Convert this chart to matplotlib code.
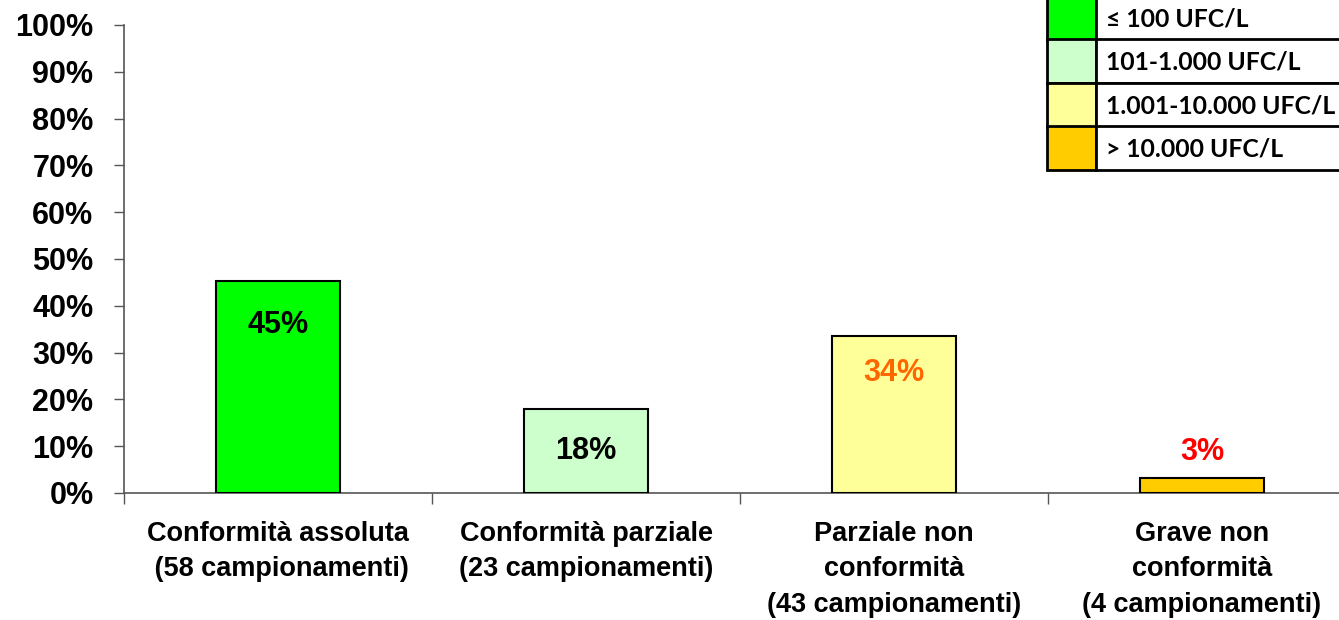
import matplotlib
matplotlib.use("Agg")
import matplotlib.pyplot as plt
from matplotlib.patches import Rectangle

# data
categories = ["Conformità assoluta\n (58 campionamenti)",
              "Conformità parziale\n(23 campionamenti)",
              "Parziale non\nconformità\n(43 campionamenti)",
              "Grave non\nconformità\n(4 campionamenti)"]
counts = [58, 23, 43, 4]
total = sum(counts)
values = [100.0 * c / total for c in counts]
bar_labels = ["45%", "18%", "34%", "3%"]
bar_colors = ["#00FF00", "#CCFFCC", "#FFFF99", "#FFCC00"]
label_colors = ["#000000", "#000000", "#FF6600", "#FF0000"]
label_offsets = [-44, -42, -37, 26]   # px from bar top
legend_labels = ["≤ 100 UFC/L", "101-1.000 UFC/L", "1.001-10.000 UFC/L", "> 10.000 UFC/L"]
yticks = list(range(0, 101, 10))

W, H = 1339, 620
fig = plt.figure(figsize=(W / 100, H / 100), dpi=100)
ax = fig.add_axes([124 / W, 1 - 493 / H, 1232 / W, 468 / H])

x = list(range(len(values)))
ax.bar(x, values, width=0.4, color=bar_colors, edgecolor="black", linewidth=1.5, zorder=3)

for xi, v, lab, col, off in zip(x, values, bar_labels, label_colors, label_offsets):
    ax.annotate(lab, (xi, v), xytext=(0, off * 0.72), textcoords="offset points",
                ha="center", va="center", fontsize=22, fontweight="bold",
                color=col, family="Liberation Sans")

ax.set_xlim(-0.5, 3.5)
ax.set_ylim(0, 100)
ax.set_yticks(yticks)
ax.set_yticklabels([f"{t}%" for t in yticks], fontsize=22, fontweight="bold",
                   family="Liberation Sans")
ax.set_xticks([-0.5, 0.5, 1.5, 2.5, 3.5])
ax.set_xticklabels([])
ax.set_xticks(x, minor=True)
ax.set_xticklabels(categories, minor=True, fontsize=19.5, fontweight="bold",
                   family="Liberation Sans", linespacing=1.48, va="top")
ax.tick_params(axis="x", which="minor", length=0, pad=20)
ax.tick_params(axis="x", which="major", length=8, width=1, color="#555555")
ax.tick_params(axis="y", length=7, width=1, color="#555555", pad=15)
for s in ["top", "right"]:
    ax.spines[s].set_visible(False)
for s in ["left", "bottom"]:
    ax.spines[s].set_color("#555555")
    ax.spines[s].set_linewidth(1.2)
ax.spines["bottom"].set_clip_on(False)

# legend table, top right
left, sw_right, row_h, top = 1047, 1096, 43.5, -4
for i, (lab, col) in enumerate(zip(legend_labels, bar_colors)):
    y0 = top + i * row_h
    fig.patches.append(Rectangle((left / W, 1 - (y0 + row_h) / H), (sw_right - left) / W, row_h / H,
                                 transform=fig.transFigure, facecolor=col,
                                 edgecolor="black", linewidth=2))
    fig.patches.append(Rectangle((sw_right / W, 1 - (y0 + row_h) / H), (W + 20 - sw_right) / W, row_h / H,
                                 transform=fig.transFigure, facecolor="white",
                                 edgecolor="black", linewidth=2))
    fig.text(1106 / W, 1 - (y0 + row_h / 2 + 1) / H, lab, fontsize=17.8, fontweight="bold",
             family=["Lato", "DejaVu Sans"], va="center", ha="left")

fig.savefig("out.png", dpi=100)
